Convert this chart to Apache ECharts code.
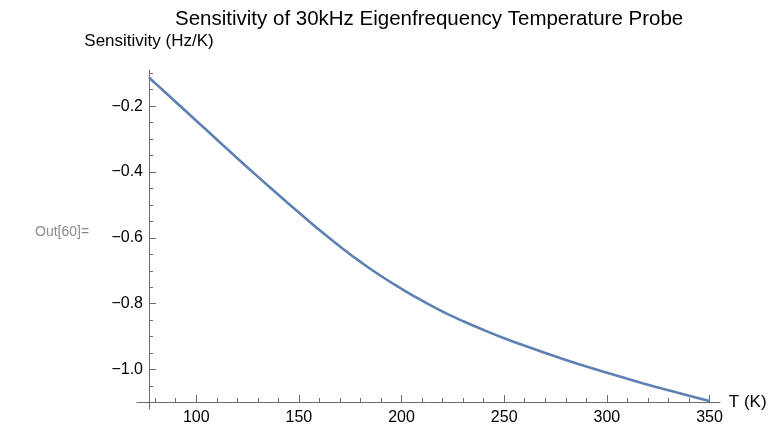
<!DOCTYPE html>
<html>
<head>
<meta charset="utf-8">
<script src="https://cdn.jsdelivr.net/npm/echarts@6/dist/echarts.min.js"></script>
<style>
  html, body { margin: 0; padding: 0; background: #fff; }
  #chart { width: 775px; height: 426px; }
</style>
</head>
<body>
<div id="chart"></div>
<script>
// temperature (K) and sensitivity (Hz/K)
var temps = [77, 80, 90, 100, 110, 120, 130, 140, 150, 160, 170, 180, 190, 200, 210,
             220, 230, 240, 250, 260, 270, 280, 290, 300, 310, 320, 330, 340, 350];
var sens = [-0.113, -0.130, -0.187, -0.244, -0.301, -0.358, -0.414, -0.469, -0.523, -0.576,
            -0.626, -0.673, -0.716, -0.755, -0.791, -0.824, -0.853, -0.880, -0.905, -0.928,
            -0.950, -0.971, -0.991, -1.010, -1.028, -1.046, -1.063, -1.080, -1.096];

var xMajor = [100, 150, 200, 250, 300, 350];
var xMinor = [80, 90, 110, 120, 130, 140, 160, 170, 180, 190, 210, 220, 230, 240,
              260, 270, 280, 290, 310, 320, 330, 340];
var yMajor = [-1.0, -0.8, -0.6, -0.4, -0.2];
var yMinor = [-1.05, -0.95, -0.9, -0.85, -0.75, -0.7, -0.65, -0.55, -0.5, -0.45,
              -0.35, -0.3, -0.25, -0.15, -0.1];

var axisColor = '#6b6b6b';
var font = 'Liberation Sans, Arial, sans-serif';

function minus(v) {
    return v.toFixed(1).replace('-', '\u2212');
}

var myChart = echarts.init(document.getElementById('chart'));

var xBase = {
    type: 'value',
    position: 'bottom',
    min: 71.15,
    max: 355.1,
    offset: -7,
    splitLine: { show: false },
    axisLine: { onZero: false, lineStyle: { color: axisColor, width: 1 } }
};
var yBase = {
    type: 'value',
    position: 'left',
    min: -1.12,
    max: -0.09,
    offset: -12,
    splitLine: { show: false },
    axisLine: { onZero: false, lineStyle: { color: axisColor, width: 1 } }
};

var option = {
    animation: false,
    title: {
        text: 'Sensitivity of 30kHz Eigenfrequency Temperature Probe',
        left: 170,
        top: 4,
        textStyle: { fontFamily: font, fontWeight: 'normal', fontSize: 20.5, color: '#000' }
    },
    grid: { left: 137, top: 70, width: 583, height: 340 },
    graphic: [{
        type: 'text',
        left: 35,
        top: 225,
        style: { text: 'Out[60]=', font: '14px ' + font, fill: '#8c8c8c' }
    }],
    xAxis: [
        Object.assign({}, xBase, {
            name: 'T (K)',
            nameLocation: 'end',
            nameGap: 8,
            nameTextStyle: { fontFamily: font, fontSize: 17, color: '#000' },
            axisTick: { inside: true, length: 7, customValues: xMajor,
                        lineStyle: { color: axisColor } },
            axisLabel: { customValues: xMajor, margin: 8, fontFamily: font,
                         fontSize: 16, color: '#000' }
        }),
        Object.assign({}, xBase, {
            axisLine: { show: false, onZero: false },
            axisTick: { inside: true, length: 4, customValues: xMinor,
                        lineStyle: { color: axisColor } },
            axisLabel: { show: false }
        })
    ],
    yAxis: [
        Object.assign({}, yBase, {
            name: 'Sensitivity (Hz/K)',
            nameLocation: 'end',
            nameGap: 20,
            nameTextStyle: { fontFamily: font, fontSize: 17, color: '#000', align: 'center' },
            axisTick: { inside: true, length: 7, customValues: yMajor,
                        lineStyle: { color: axisColor } },
            axisLabel: { customValues: yMajor, margin: 6, fontFamily: font,
                         fontSize: 16, color: '#000', formatter: minus }
        }),
        Object.assign({}, yBase, {
            axisLine: { show: false, onZero: false },
            axisTick: { inside: true, length: 4, customValues: yMinor,
                        lineStyle: { color: axisColor } },
            axisLabel: { show: false }
        })
    ],
    series: [{
        name: 'Sensitivity',
        type: 'line',
        xAxisIndex: 0,
        yAxisIndex: 0,
        smooth: true,
        showSymbol: false,
        lineStyle: { color: '#5e81b5', width: 2.6 },
        data: temps.map(function (t, i) { return [t, sens[i]]; })
    }]
};

myChart.setOption(option);
</script>
</body>
</html>
